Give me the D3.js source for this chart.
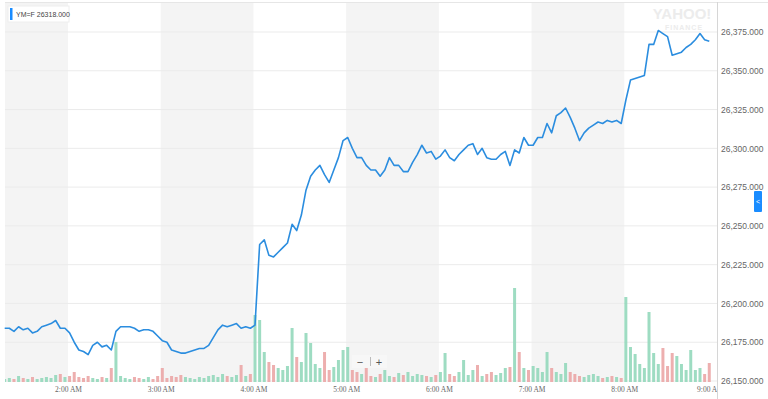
<!DOCTYPE html>
<html>
<head>
<meta charset="utf-8">
<script src="https://cdn.jsdelivr.net/npm/d3@7"></script>
<style>
  body { margin: 0; background: #fff; }
  svg { display: block; font-family: "Liberation Sans", Arial, sans-serif; }
</style>
</head>
<body>
<div id="chart"></div>
<script>
// symbol shown in the little legend box
var symbol = "YM=F";
var quoteValue = 26318;

// one bar every 3 minutes starting at 1:19 AM
var firstBar = "01:19";
var barMinutes = 3;
var viewStart = "01:19:12";
var viewEnd = "09:00:00";

var prices = [
  26184, 26184, 26182, 26185, 26183, 26184, 26181, 26182, 26185, 26186,
  26187, 26189, 26184, 26184, 26181, 26175, 26170, 26169, 26167, 26173,
  26175, 26172, 26173, 26170, 26182, 26185, 26185, 26185, 26184, 26182,
  26183, 26183, 26182, 26179, 26176, 26175, 26170, 26169, 26168, 26168,
  26169, 26170, 26171, 26171, 26173, 26178, 26183, 26186, 26185, 26186,
  26187, 26184, 26185, 26184, 26186, 26238, 26241, 26231, 26230, 26233,
  26236, 26239, 26251, 26247, 26257, 26273, 26282, 26286, 26289, 26283,
  26278, 26286, 26294, 26305, 26307, 26300, 26294, 26294, 26289, 26286,
  26286, 26282, 26286, 26294, 26289, 26289, 26285, 26285, 26291, 26296,
  26302, 26297, 26298, 26293, 26295, 26299, 26294, 26292, 26296, 26299,
  26302, 26303, 26296, 26300, 26294, 26293, 26293, 26296, 26298, 26289,
  26299, 26297, 26307, 26302, 26302, 26307, 26307, 26316, 26310, 26321,
  26323, 26326, 26320, 26313, 26305, 26310, 26313, 26315, 26317, 26316,
  26318, 26317, 26318, 26316, 26331, 26344, 26345, 26346, 26347, 26367,
  26367, 26376, 26374, 26372, 26360, 26361, 26362, 26365, 26367, 26370,
  26374, 26370, 26369
];

var volumes = [
  30, 40, 30, 60, 40, 30, 50, 30, 40, 50,
  40, 70, 80, 50, 60, 100, 50, 40, 60, 40,
  30, 50, 40, 140, 400, 60, 40, 30, 50, 40,
  30, 50, 30, 60, 140, 40, 60, 50, 70, 50,
  40, 30, 50, 40, 60, 70, 50, 80, 60, 50,
  70, 170, 60, 80, 670, 620, 300, 200, 170, 140,
  120, 160, 540, 250, 200, 490, 390, 180, 140, 300,
  120, 150, 220, 320, 350, 120, 100, 80, 140, 60,
  50, 80, 120, 60, 50, 90, 70, 100, 60, 80,
  70, 60, 50, 70, 100, 290, 80, 60, 100, 220,
  70, 120, 170, 60, 80, 100, 70, 90, 140, 150,
  940, 300, 140, 120, 160, 140, 100, 300, 140, 100,
  80, 190, 100, 80, 60, 50, 70, 80, 60, 40,
  50, 60, 50, 40, 850, 350, 280, 180, 140, 700,
  290, 180, 340, 160, 290, 260, 180, 120, 320, 120,
  140, 80, 190
];

var yTicks = [26150, 26175, 26200, 26225, 26250, 26275, 26300, 26325, 26350, 26375];
var xTicks = ["02:00", "03:00", "04:00", "05:00", "06:00", "07:00", "08:00", "09:00"];
var shadedHours = [["01:00", "02:00"], ["03:00", "04:00"], ["05:00", "06:00"], ["07:00", "08:00"]];

var W = 768, H = 399;
var plot = {left: 5, right: 717, top: 2, bottom: 382};

var parseHM = d3.timeParse("%H:%M");
var parseHMS = d3.timeParse("%H:%M:%S");
var t0 = parseHM(firstBar);

var bars = prices.map(function(p, i) {
  return {
    time: d3.timeMinute.offset(t0, i * barMinutes),
    price: p,
    volume: volumes[i],
    up: i == 0 ? true : p >= prices[i - 1]
  };
});

var x = d3.scaleTime()
  .domain([parseHMS(viewStart), parseHMS(viewEnd)])
  .range([plot.left, plot.right]);

var y = d3.scaleLinear()
  .domain([26150, 26375])
  .range([381, 32]);

var yVol = d3.scaleLinear()
  .domain([0, 1000])
  .range([plot.bottom, plot.bottom - 100]);

var svg = d3.select("#chart").append("svg")
  .attr("width", W)
  .attr("height", H);

svg.append("defs").append("clipPath").attr("id", "plotclip")
  .append("rect")
  .attr("x", plot.left).attr("y", plot.top)
  .attr("width", plot.right - plot.left).attr("height", H - plot.top);

// alternating hour bands
svg.append("g").attr("clip-path", "url(#plotclip)")
  .selectAll("rect")
  .data(shadedHours)
  .enter().append("rect")
  .attr("x", function(d) { return Math.max(plot.left, x(parseHM(d[0]))); })
  .attr("width", function(d) { return x(parseHM(d[1])) - Math.max(plot.left, x(parseHM(d[0]))); })
  .attr("y", plot.top)
  .attr("height", plot.bottom - plot.top)
  .attr("fill", "#f4f4f4");

// horizontal grid
svg.append("g")
  .selectAll("line")
  .data(yTicks)
  .enter().append("line")
  .attr("x1", plot.left).attr("x2", plot.right)
  .attr("y1", function(d) { return y(d); })
  .attr("y2", function(d) { return y(d); })
  .attr("stroke", "#ebebeb")
  .attr("stroke-width", 1);

svg.append("line")
  .attr("x1", plot.left).attr("x2", W)
  .attr("y1", plot.top + 0.5).attr("y2", plot.top + 0.5)
  .attr("stroke", "#e6e6e6");

// watermark
svg.append("text")
  .attr("x", 682).attr("y", 19)
  .attr("text-anchor", "middle")
  .attr("font-size", 15).attr("font-weight", "bold")
  .attr("fill", "#ececec")
  .text("YAHOO!");
svg.append("text")
  .attr("x", 684).attr("y", 30)
  .attr("text-anchor", "middle")
  .attr("font-size", 7).attr("font-weight", "bold")
  .attr("letter-spacing", 1)
  .attr("fill", "#ececec")
  .text("FINANCE");

// volume bars
svg.append("g").attr("clip-path", "url(#plotclip)")
  .selectAll("rect")
  .data(bars)
  .enter().append("rect")
  .attr("x", function(d) { return x(d.time) - 1.5; })
  .attr("width", 3)
  .attr("y", function(d) { return yVol(d.volume); })
  .attr("height", function(d) { return plot.bottom - yVol(d.volume); })
  .attr("fill", function(d) { return d.up ? "#93d8bb" : "#eba6a6"; })
  .attr("opacity", 0.9);

// price line
var line = d3.line()
  .x(function(d) { return x(d.time); })
  .y(function(d) { return y(d.price); });

svg.append("path")
  .datum(bars)
  .attr("d", line)
  .attr("fill", "none")
  .attr("stroke", "#2b8ddf")
  .attr("stroke-width", 1.6)
  .attr("stroke-linejoin", "round");

// right axis border
svg.append("line")
  .attr("x1", plot.right + 0.5).attr("x2", plot.right + 0.5)
  .attr("y1", plot.top).attr("y2", H)
  .attr("stroke", "#d6d6d6");

// y axis
var yAxis = svg.append("g")
  .attr("transform", "translate(" + plot.right + ",0)")
  .call(d3.axisRight(y).tickValues(yTicks).tickFormat(d3.format(",.3f")).tickSize(0).tickPadding(4));
yAxis.select(".domain").remove();
yAxis.selectAll("text")
  .attr("font-family", "'Liberation Sans', Arial, sans-serif")
  .attr("font-size", 8.5)
  .attr("fill", "#666");

// x axis
var xAxis = svg.append("g")
  .attr("clip-path", "url(#plotclip)")
  .attr("transform", "translate(0," + plot.bottom + ")")
  .call(d3.axisBottom(x).tickValues(xTicks.map(parseHM)).tickFormat(d3.timeFormat("%-I:%M %p")).tickSize(0).tickPadding(5));
xAxis.select(".domain").remove();
xAxis.selectAll("text")
  .attr("font-family", "'Liberation Serif', 'Times New Roman', serif")
  .attr("font-size", 7.5)
  .attr("fill", "#666");
// last label sits against the axis border
xAxis.selectAll(".tick:last-of-type text").attr("dx", -7);

// legend box
var legend = svg.append("g").attr("transform", "translate(8,6)");
legend.append("rect")
  .attr("width", 61).attr("height", 16)
  .attr("fill", "#fff")
  .attr("stroke", "#eeeeee");
legend.append("rect")
  .attr("x", 2).attr("y", 2)
  .attr("width", 2.5).attr("height", 12)
  .attr("fill", "#1a8cff");
legend.append("text")
  .attr("x", 8).attr("y", 11)
  .attr("font-size", 7)
  .attr("fill", "#444")
  .text(symbol + "  " + d3.format(".3f")(quoteValue));

// zoom control
var zoomCtl = svg.append("g").attr("transform", "translate(352,355)");
zoomCtl.append("rect")
  .attr("width", 35).attr("height", 13)
  .attr("fill", "#f7f7f7").attr("opacity", 0.9);
zoomCtl.append("line")
  .attr("x1", 18.5).attr("x2", 18.5).attr("y1", 2).attr("y2", 11)
  .attr("stroke", "#bbb");
zoomCtl.append("text").attr("x", 8).attr("y", 10.5)
  .attr("text-anchor", "middle").attr("font-size", 11).attr("fill", "#555").text("\u2212");
zoomCtl.append("text").attr("x", 27).attr("y", 10.5)
  .attr("text-anchor", "middle").attr("font-size", 11).attr("fill", "#555").text("+");

// side toggle button
var btn = svg.append("g").attr("transform", "translate(754,191)");
btn.append("rect")
  .attr("width", 8).attr("height", 21).attr("rx", 1)
  .attr("fill", "#1a8cff");
btn.append("text")
  .attr("x", 4).attr("y", 13)
  .attr("text-anchor", "middle")
  .attr("font-size", 7).attr("fill", "#fff")
  .text("<");
</script>
</body>
</html>
